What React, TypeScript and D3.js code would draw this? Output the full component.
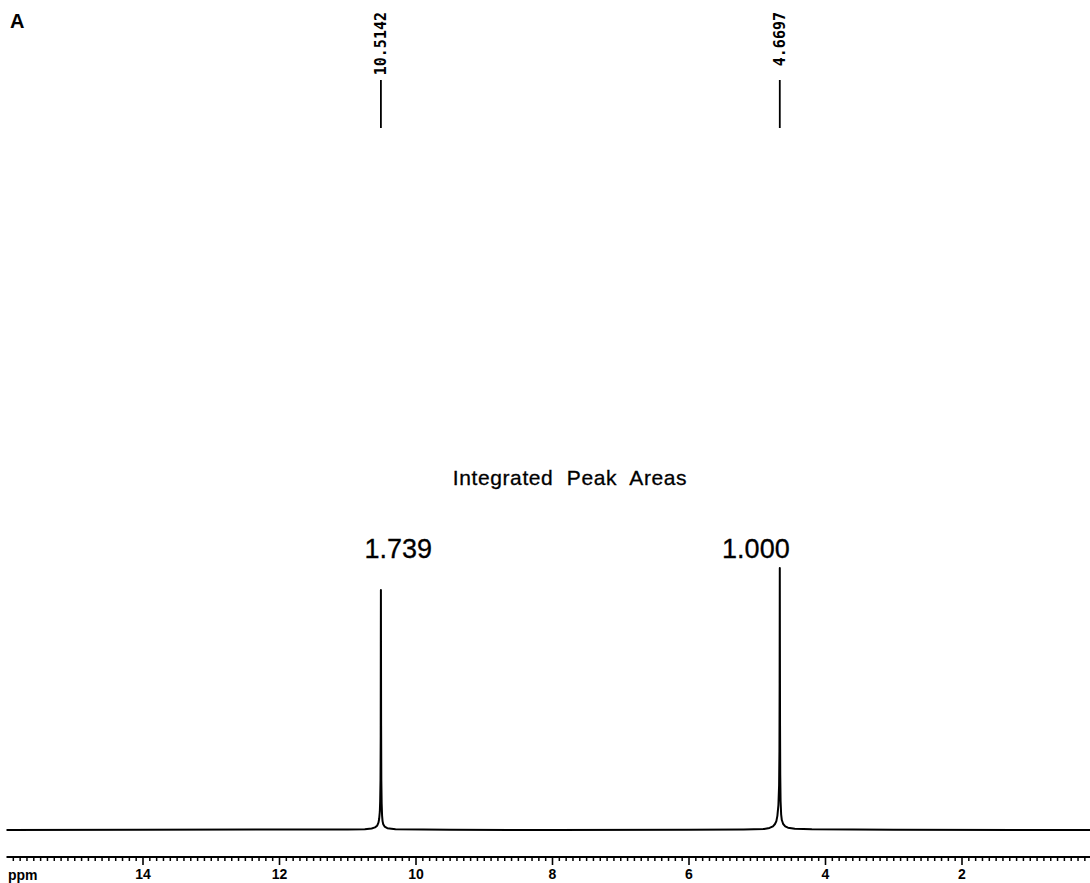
import React from "react";
import * as d3 from "d3";

const W = 1090;
const H = 883;

// Spectrum trace (ppm, relative intensity)
const spectrumPpm = [
  16.0, 14.0, 12.0, 11.0, 10.75, 10.65, 10.6, 10.57, 10.55, 10.54, 10.53, 10.525, 10.52, 10.517, 10.5155,
  10.5142, 10.513, 10.511, 10.508, 10.503, 10.497, 10.49, 10.48, 10.46, 10.42, 10.3, 9.5, 8.0, 6.0, 5.2,
  4.9, 4.82, 4.77, 4.74, 4.72, 4.705, 4.69, 4.68, 4.675, 4.672, 4.6697, 4.668, 4.666, 4.663, 4.658, 4.65,
  4.64, 4.62, 4.59, 4.55, 4.45, 4.2, 3.0, 1.0, 0.1,
];
const spectrumIntensity = [
  0.0, 0.1, 0.2, 0.2, 0.3, 0.6, 1.0, 1.6, 2.8, 4.2, 7.0, 11, 19, 36, 70,
  91.6, 72, 40, 19, 10, 5.5, 3.4, 2.2, 1.3, 0.7, 0.3, 0.1, 0.0, 0.1, 0.2,
  0.4, 0.8, 1.4, 2.3, 3.4, 5.4, 9.5, 17, 30, 56, 100, 70, 40, 21, 11, 6,
  3.8, 2.3, 1.4, 0.9, 0.5, 0.3, 0.1, 0.0, 0.0,
];

// Peak picking labels
const peakPpm = [10.5142, 4.6697];
const peakLabels = ["10.5142", "4.6697"];

// Integrals
const integralLabels = ["1.739", "1.000"];
const integralLabelPpm = [10.26, 5.02];

// Axis
const majorTicks = [14, 12, 10, 8, 6, 4, 2];
const axisDomain = [16.0, 0.1];

export default function App() {
  const x = d3.scaleLinear().domain([14, 2]).range([143, 962]);
  const y = d3.scaleLinear().domain([0, 100]).range([830, 568]);

  const pts = spectrumPpm.map((p, i) => [p, spectrumIntensity[i]] as [number, number]);
  const line = d3
    .line<[number, number]>()
    .x((d) => x(d[0]))
    .y((d) => y(d[1]));

  const axisY = 857;
  const minorTicks = d3.range(159, 1, -1).map((v) => v / 10).filter((v) => !majorTicks.includes(v));

  return (
    <svg
      width={W}
      height={H}
      style={{ position: "absolute", left: 0, top: 0, background: "#fff" }}
      xmlns="http://www.w3.org/2000/svg"
    >
      <rect x={0} y={0} width={W} height={H} fill="#fff" />
      <text x={10} y={28} fontFamily="Liberation Sans, Arial, sans-serif" fontWeight="bold" fontSize={20}>
        A
      </text>

      {/* Peak labels */}
      {peakPpm.map((p, i) => (
        <g key={"pk" + i}>
          <text
            transform={`translate(${x(p) + 5.5},12) rotate(-90)`}
            textAnchor="end"
            fontFamily="DejaVu Sans Mono, monospace"
            fontWeight="bold"
            fontSize={15}
          >
            {peakLabels[i]}
          </text>
          <line x1={x(p)} x2={x(p)} y1={80} y2={128} stroke="#000" strokeWidth={1.8} />
        </g>
      ))}

      {/* Integrals */}
      <text
        x={570}
        y={485}
        textAnchor="middle"
        fontFamily="Liberation Sans, Arial, sans-serif"
        fontSize={21}
        wordSpacing={7}
        letterSpacing={0.6}
        stroke="#000"
        strokeWidth={0.3}
      >
        Integrated Peak Areas
      </text>
      {integralLabels.map((t, i) => (
        <text
          key={"int" + i}
          x={x(integralLabelPpm[i])}
          y={558}
          textAnchor="middle"
          fontFamily="Liberation Sans, Arial, sans-serif"
          fontSize={27}
          stroke="#000"
          strokeWidth={0.3}
        >
          {t}
        </text>
      ))}

      {/* Spectrum */}
      <path d={line(pts) || ""} fill="none" stroke="#000" strokeWidth={2} strokeLinejoin="round" />

      {/* Axis */}
      <line x1={x(axisDomain[0])} x2={x(axisDomain[1])} y1={axisY} y2={axisY} stroke="#000" strokeWidth={1.8} />
      {minorTicks.map((t) => (
        <line key={"m" + t} x1={x(t)} x2={x(t)} y1={axisY} y2={axisY + 4} stroke="#000" strokeWidth={1.5} />
      ))}
      {majorTicks.map((t) => (
        <g key={"M" + t}>
          <line x1={x(t)} x2={x(t)} y1={axisY} y2={axisY + 8} stroke="#000" strokeWidth={1.6} />
          <text
            x={x(t)}
            y={879}
            textAnchor="middle"
            fontFamily="Liberation Sans, Arial, sans-serif"
            fontWeight="bold"
            fontSize={14}
          >
            {t}
          </text>
        </g>
      ))}
      <text x={8} y={880} fontFamily="Liberation Sans, Arial, sans-serif" fontWeight="bold" fontSize={14}>
        ppm
      </text>
    </svg>
  );
}
